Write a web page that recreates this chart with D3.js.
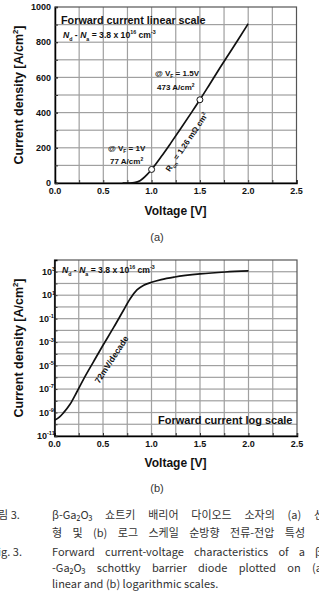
<!DOCTYPE html>
<html lang="en">
<head>
<meta charset="UTF-8">
<title>Ga2O3 SBD forward I-V</title>
<script src="https://d3js.org/d3.v7.min.js"></script>
<style>
  body { margin: 0; background: #fff; }
  svg { display: block; }
  text { font-family: Arial, "Liberation Sans", sans-serif; }
</style>
</head>
<body>
<svg width="319" height="591"></svg>
<script>
// (a) forward current, linear scale (V, A/cm2)
const linVolt = [0.70, 0.78, 0.82, 0.88, 0.95, 1.00, 1.10, 1.20, 1.30, 1.40, 1.50, 1.60, 1.70, 1.80, 1.90, 2.00];
const linCurrent = [0, 0, 2, 13, 46, 77, 150, 228, 308, 390, 473, 560, 648, 733, 818, 905];
const markVolt = [1.0, 1.5];
const markCurrent = [77, 473];

// (b) forward current, log scale
const logVolt = [0.00, 0.05, 0.09, 0.16, 0.23, 0.30, 0.40, 0.50, 0.61, 0.71, 0.78, 0.85, 0.92, 1.00, 1.10, 1.24, 1.50, 1.76, 2.00];
const logCurrent = [2.2e-10, 4.0e-10, 8.9e-10, 5.0e-9, 5.6e-8, 7.1e-7, 2.0e-5, 5.4e-4, 1.8e-2, 0.50, 5.0, 28, 71, 126, 214, 355, 650, 950, 1170];

// ticks and grids
const voltTicks = [0, 0.5, 1.0, 1.5, 2.0, 2.5];
const voltTickLabels = ["0.0", "0.5", "1.0", "1.5", "2.0", "2.5"];
const voltGrid = [0.25, 0.5, 0.75, 1.0, 1.25, 1.5, 1.75, 2.0, 2.25];
const linTicks = [0, 200, 400, 600, 800, 1000];
const linGrid = [100, 200, 300, 400, 500, 600, 700, 800, 900];
const logTickExp = [3, 1, -1, -3, -5, -7, -9, -11];
const logGridExp = [-10, -9, -8, -7, -6, -5, -4, -3, -2, -1, 0, 1, 2, 3];

const svg = d3.select("svg");
svg.append("rect").attr("width", 319).attr("height", 591).attr("fill", "#fff");

// write text with sub/superscripts: parts = [[str, kind], ...]
function rich(sel, parts, size) {
    let shift = 0;
    parts.forEach(([str, kind]) => {
        let target = 0;
        if (kind && kind.includes("sub")) target = size * 0.3;
        if (kind && kind.includes("sup")) target = -size * 0.42;
        const t = sel.append("tspan").text(str).attr("dy", target - shift);
        if (target != 0) t.attr("font-size", size * 0.62);
        if (kind && kind.includes("it")) t.attr("font-style", "italic");
        shift = target;
    });
    return sel;
}

function label(x, y, size, parts, weight) {
    const t = svg.append("text")
        .attr("x", x).attr("y", y)
        .attr("font-size", size)
        .attr("font-weight", weight || "bold")
        .attr("fill", "#111");
    return rich(t, parts, size);
}

function plotFrame(x, y, hGrid, vTickVals) {
    const [x0, x1] = x.range();
    const [y0, y1] = y.range();
    const g = svg.append("g");
    // grid as thin filled bars
    g.append("g").selectAll("rect").data(voltGrid).join("rect")
        .attr("x", d => x(d) - 0.6).attr("y", y1)
        .attr("width", 1.2).attr("height", y0 - y1)
        .attr("fill", "#a0a0a0");
    g.append("g").selectAll("rect").data(hGrid).join("rect")
        .attr("x", x0).attr("y", d => y(d) - 0.6)
        .attr("width", x1 - x0).attr("height", 1.2)
        .attr("fill", "#a0a0a0");
    // frame
    g.append("rect")
        .attr("x", x0).attr("y", y1)
        .attr("width", x1 - x0).attr("height", y0 - y1)
        .attr("fill", "none").attr("stroke", "#555").attr("stroke-width", 1.2);
    // bottom axis
    const ax = g.append("g").attr("transform", `translate(0,${y0})`)
        .call(d3.axisBottom(x).tickValues(voltGrid.concat([0, 2.5])).tickSize(-3).tickFormat(""));
    ax.select(".domain").attr("stroke", "#000").attr("stroke-width", 1.5);
    ax.selectAll(".tick line").attr("stroke", "#333");
    g.append("g").selectAll("text").data(voltTicks).join("text")
        .attr("x", (d) => x(d)).attr("y", y0 + 10.5)
        .attr("text-anchor", "middle")
        .attr("font-size", 9).attr("font-weight", "bold").attr("fill", "#111")
        .text((d, i) => voltTickLabels[i]);
    // left axis
    const ay = g.append("g").attr("transform", `translate(${x0},0)`)
        .call(d3.axisLeft(y).tickValues(vTickVals).tickSize(-3).tickFormat(""));
    ay.select(".domain").attr("stroke", "#000").attr("stroke-width", 1.5);
    ay.selectAll(".tick line").attr("stroke", "#333");
    return g;
}

// ---------- (a) linear ----------
const xa = d3.scaleLinear().domain([0, 2.5]).range([55, 296.5]);
const ya = d3.scaleLinear().domain([0, 1000]).range([183, 7]);
plotFrame(xa, ya, linGrid, linGrid.concat(linTicks));

svg.append("g").selectAll("text").data(linTicks).join("text")
    .attr("x", 51).attr("y", d => ya(d) + 3.2)
    .attr("text-anchor", "end")
    .attr("font-size", 9).attr("font-weight", "bold").attr("fill", "#111")
    .text(d => d);

svg.append("path")
    .datum(linVolt.map((v, i) => [v, linCurrent[i]]))
    .attr("d", d3.line().x(d => xa(d[0])).y(d => ya(d[1])).curve(d3.curveMonotoneX))
    .attr("fill", "none").attr("stroke", "#111").attr("stroke-width", 1.7);

svg.append("g").selectAll("circle").data(markVolt).join("circle")
    .attr("cx", d => xa(d)).attr("cy", (d, i) => ya(markCurrent[i]))
    .attr("r", 3).attr("fill", "#fff").attr("stroke", "#111").attr("stroke-width", 1);

const ndParts = [["N", "it"], ["d", "sub"], [" - "], ["N", "it"], ["a", "sub"], [" = 3.8 x 10"], ["16", "sup"], [" cm"], ["-3", "sup"]];
label(61, 24, 10.8, [["Forward current linear scale"]]);
label(63, 38, 8.6, ndParts);
label(155, 76, 8, [["@ V"], ["F", "sub"], [" = 1.5V"]]);
label(157, 90, 8, [["473 A/cm"], ["2", "sup"]]);
label(108, 151, 8, [["@ V"], ["F", "sub"], [" = 1V"]]);
label(110, 164, 8, [["77 A/cm"], ["2", "sup"]]);

const ron = svg.append("text")
    .attr("transform", "translate(186.5,142) rotate(-56)")
    .attr("y", 3).attr("text-anchor", "middle")
    .attr("font-size", 8).attr("font-weight", "bold").attr("fill", "#111");
rich(ron, [["R"], ["on", "sub"], [" = 1.26 m\u03A9 cm"], ["2", "sup"]], 8);

// axis titles (a)
const yta = svg.append("text")
    .attr("transform", `translate(23,${(7 + 183) / 2}) rotate(-90)`)
    .attr("text-anchor", "middle")
    .attr("font-size", 12.5).attr("font-weight", "bold").attr("fill", "#111");
rich(yta, [["Current density [A/cm"], ["2", "sup"], ["]"]], 12.5);
svg.append("text").attr("x", 175.5).attr("y", 214.5)
    .attr("text-anchor", "middle").attr("font-size", 12).attr("font-weight", "bold").attr("fill", "#111")
    .text("Voltage [V]");
svg.append("text").attr("x", 157).attr("y", 241)
    .attr("text-anchor", "middle").attr("font-size", 11).attr("fill", "#333")
    .text("(a)");

// ---------- (b) log ----------
const xb = d3.scaleLinear().domain([0, 2.5]).range([54.5, 297]);
const yb = d3.scaleLog().domain([1e-11, 1e4]).range([436, 260]);
const logGrid = logGridExp.map(e => Math.pow(10, e));
plotFrame(xb, yb, logGrid, logGrid.concat([1e-11]));

const ylb = svg.append("g").selectAll("text").data(logTickExp).join("text")
    .attr("x", d => d < -9 ? 37 : d < 0 ? 39 : 42)
    .attr("y", d => yb(Math.pow(10, d)) + 3.2)
    .attr("text-anchor", "start")
    .attr("font-size", 9).attr("font-weight", "bold").attr("fill", "#111");
ylb.each(function (d) {
    rich(d3.select(this), [["10"], [String(d), "sup"]], 9);
});

svg.append("path")
    .datum(logVolt.map((v, i) => [v, logCurrent[i]]))
    .attr("d", d3.line().x(d => xb(d[0])).y(d => yb(d[1])).curve(d3.curveMonotoneX))
    .attr("fill", "none").attr("stroke", "#111").attr("stroke-width", 1.7);

label(62, 273, 8.6, ndParts);
label(158, 424, 11, [["Forward current log scale"]]);

svg.append("text")
    .attr("transform", "translate(111.5,359.5) rotate(-57)")
    .attr("y", 3).attr("text-anchor", "middle")
    .attr("font-size", 8.5).attr("font-weight", "bold").attr("fill", "#111")
    .text("72mV/decade");

const ytb = svg.append("text")
    .attr("transform", `translate(23,${(260 + 436) / 2}) rotate(-90)`)
    .attr("text-anchor", "middle")
    .attr("font-size", 12.5).attr("font-weight", "bold").attr("fill", "#111");
rich(ytb, [["Current density [A/cm"], ["2", "sup"], ["]"]], 12.5);
svg.append("text").attr("x", 175.5).attr("y", 466.5)
    .attr("text-anchor", "middle").attr("font-size", 12).attr("font-weight", "bold").attr("fill", "#111")
    .text("Voltage [V]");
svg.append("text").attr("x", 157).attr("y", 492)
    .attr("text-anchor", "middle").attr("font-size", 11).attr("fill", "#333")
    .text("(b)");

// ---------- caption (justified by word spacing) ----------
const capFont = "'Noto Sans CJK KR', 'Noto Sans', sans-serif";
function cap(x, y, str, width) {
    const t = svg.append("text").attr("x", x).attr("y", y)
        .attr("font-size", 11).attr("fill", "#333")
        .style("font-family", capFont)
        .text(str);
    if (width) {
        const gaps = str.split(" ").length - 1;
        const extra = width - t.node().getComputedTextLength();
        if (gaps > 0 && extra > 0) t.attr("word-spacing", extra / gaps);
    }
    return t;
}
cap(-12, 519, "그림 3.");
cap(52, 519, "\u03B2-Ga\u2082O\u2083 쇼트키 배리어 다이오드 소자의 (a) 선", 272);
cap(52, 537, "형 및 (b) 로그 스케일 순방향 전류-전압 특성", 253);
cap(-8, 556, "Fig. 3.");
cap(52, 556, "Forward current-voltage characteristics of a \u03B2", 270);
cap(52, 572, "-Ga\u2082O\u2083 schottky barrier diode plotted on (a", 270);
cap(52, 588, "linear and (b) logarithmic scales.");
</script>
</body>
</html>
